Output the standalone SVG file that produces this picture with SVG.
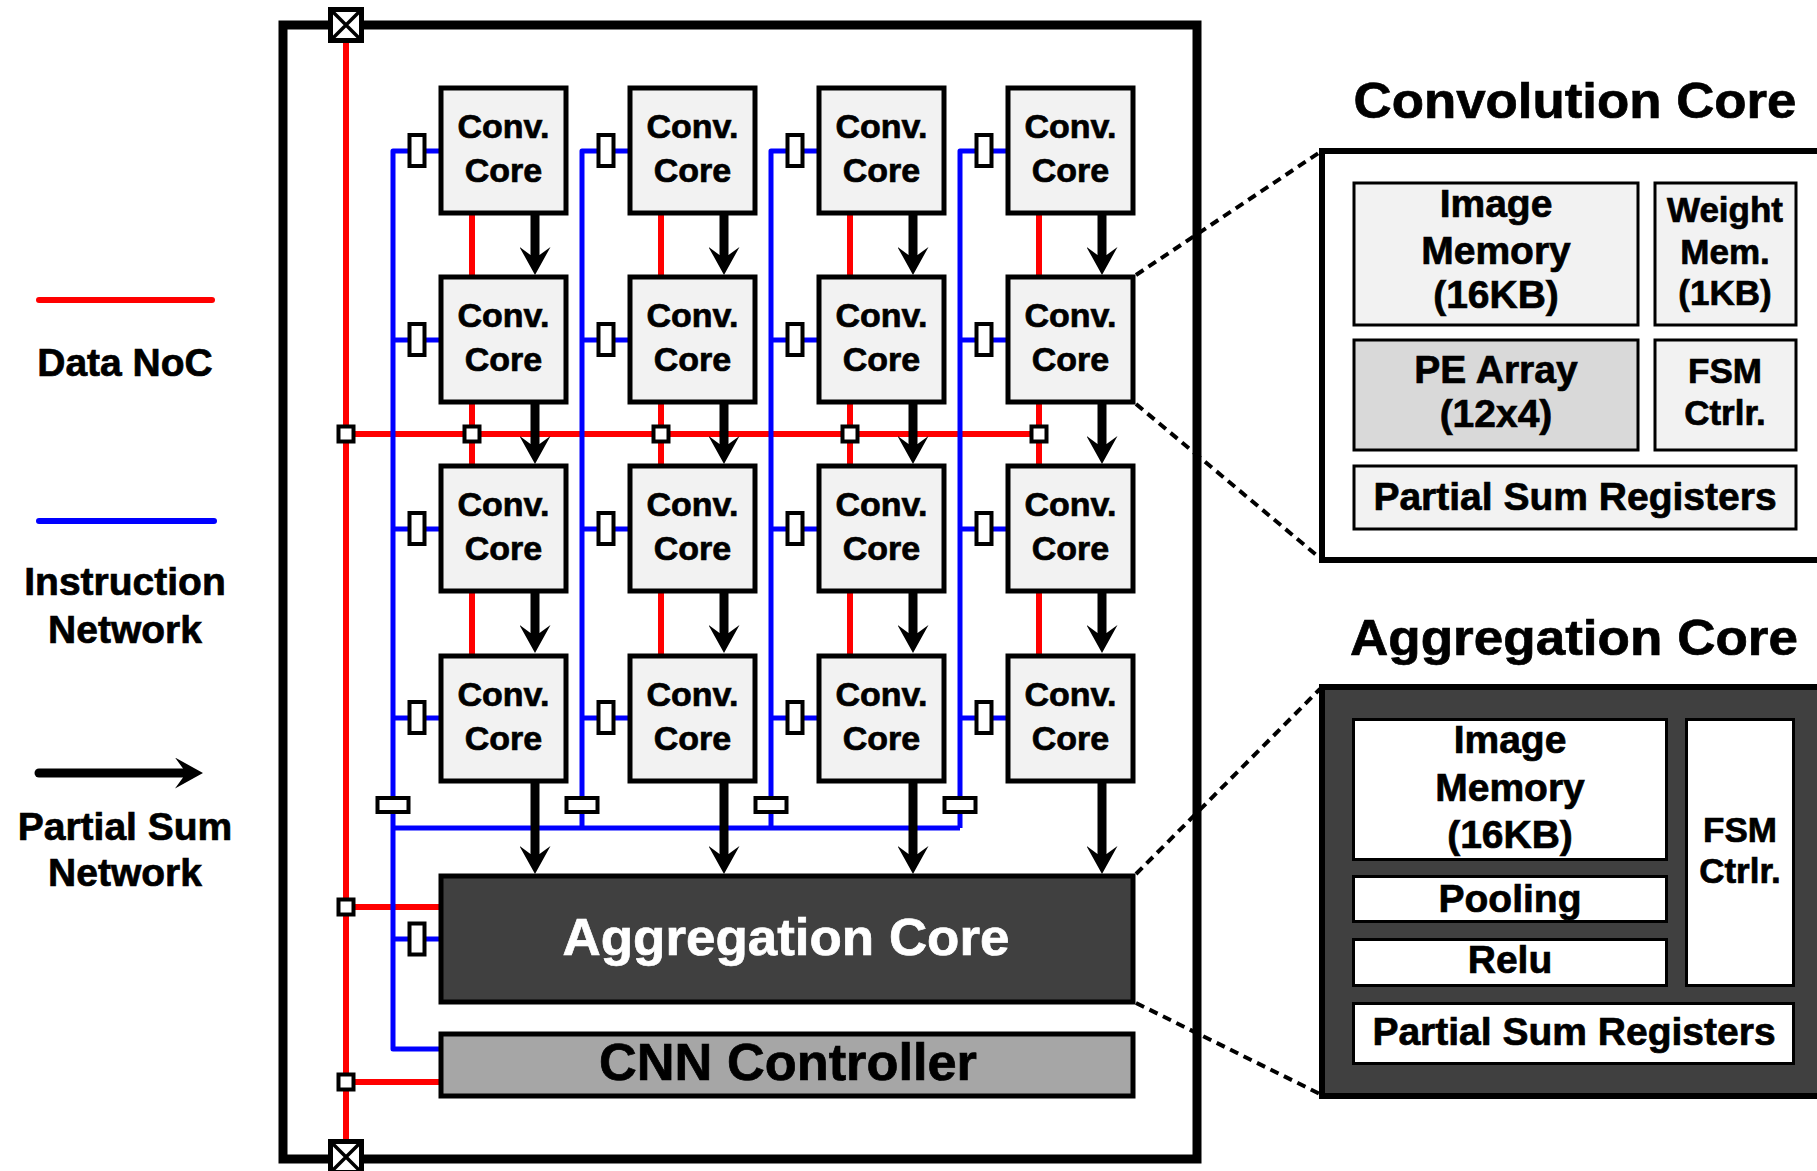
<svg xmlns="http://www.w3.org/2000/svg" width="1817" height="1171" viewBox="0 0 1817 1171">
  <style>
    text { font-family: "Liberation Sans", Arial, Helvetica, sans-serif; font-weight: bold; text-anchor: middle; fill: #000; stroke: #000; stroke-width: 0.7; }
    .core { fill: #f2f2f2; stroke: #000; stroke-width: 5; }
    .ct { font-size: 34px; }
    .red { stroke: #ff0000; stroke-width: 6; fill: none; }
    .blue { stroke: #0000ff; stroke-width: 5; fill: none; stroke-linejoin: round; }
    .psum { stroke: #000; stroke-width: 9; fill: none; marker-end: url(#head); }
    .jn { fill: #fff; stroke: #000; stroke-width: 4; }
    .buf { fill: #fff; stroke: #000; stroke-width: 4; }
    .xbox { fill: #fff; stroke: #000; stroke-width: 5; }
    .xl { stroke: #000; stroke-width: 3.5; }
    .dots { stroke: #000; stroke-width: 4; stroke-dasharray: 9 6; fill: none; }
    .sub { stroke: #000; stroke-width: 3; }
    .lg { font-size: 39px; }
    .big { font-size: 39px; }
    .mid { font-size: 35px; }
    .title { font-size: 50px; }
    .inv { fill: #fff; stroke: #fff; }
  </style>
  <defs>
    <marker id="head" viewBox="0 0 28 31" refX="8" refY="15.5" markerWidth="28" markerHeight="31" markerUnits="userSpaceOnUse" orient="auto">
      <path d="M28,15.5 L0,0 L8,11 L8,20 L0,31 Z" fill="#000"/>
    </marker>
  </defs>

  <rect width="1817" height="1171" fill="#fff"/>

  <!-- legend -->
  <g id="legend">
    <line x1="39" y1="300" x2="212" y2="300" stroke="#ff0000" stroke-width="6" stroke-linecap="round"/>
    <text class="lg" x="125" y="376">Data NoC</text>
    <line x1="39" y1="521" x2="214" y2="521" stroke="#0000ff" stroke-width="6" stroke-linecap="round"/>
    <text class="lg" x="125" y="595">Instruction</text>
    <text class="lg" x="125" y="643">Network</text>
    <line x1="39" y1="773" x2="183" y2="773" stroke="#000" stroke-width="9" stroke-linecap="round" marker-end="url(#head)"/>
    <text class="lg" x="125" y="840">Partial Sum</text>
    <text class="lg" x="125" y="886">Network</text>
  </g>

  <!-- chip boundary -->
  <rect id="chip" x="283" y="25" width="914" height="1134" fill="none" stroke="#000" stroke-width="9"/>

  <!-- connectors -->
  <g id="connectors">
    <!-- data NoC -->
    <g id="data-noc">
      <line class="red" x1="346" y1="40" x2="346" y2="1142"/>
      <line class="red" x1="346" y1="434" x2="1039" y2="434"/>
      <line class="red" x1="472" y1="213" x2="472" y2="657"/>
      <line class="red" x1="661" y1="213" x2="661" y2="657"/>
      <line class="red" x1="850" y1="213" x2="850" y2="657"/>
      <line class="red" x1="1039" y1="213" x2="1039" y2="657"/>
      <line class="red" x1="346" y1="907" x2="441" y2="907"/>
      <line class="red" x1="346" y1="1082" x2="441" y2="1082"/>
    </g>
    <!-- instruction network -->
    <g id="instr-net">
      <path class="blue" d="M441,151 H393 V1049 H441"/>
      <path class="blue" d="M630,151 H582 V828"/>
      <path class="blue" d="M819,151 H771 V828"/>
      <path class="blue" d="M1008,151 H960 V828"/>
      <path class="blue" d="M393,828 H960"/>
      <path class="blue" d="M393,340 H441 M393,529 H441 M393,718 H441 M393,939 H441"/>
      <path class="blue" d="M582,340 H630 M582,529 H630 M582,718 H630"/>
      <path class="blue" d="M771,340 H819 M771,529 H819 M771,718 H819"/>
      <path class="blue" d="M960,340 H1008 M960,529 H1008 M960,718 H1008"/>
    </g>
    <!-- partial sum network -->
    <g id="psum-net">
      <line class="psum" x1="535" y1="213" x2="535" y2="255"/>
      <line class="psum" x1="535" y1="402" x2="535" y2="444"/>
      <line class="psum" x1="535" y1="591" x2="535" y2="633"/>
      <line class="psum" x1="535" y1="781" x2="535" y2="854"/>
      <line class="psum" x1="724" y1="213" x2="724" y2="255"/>
      <line class="psum" x1="724" y1="402" x2="724" y2="444"/>
      <line class="psum" x1="724" y1="591" x2="724" y2="633"/>
      <line class="psum" x1="724" y1="781" x2="724" y2="854"/>
      <line class="psum" x1="913" y1="213" x2="913" y2="255"/>
      <line class="psum" x1="913" y1="402" x2="913" y2="444"/>
      <line class="psum" x1="913" y1="591" x2="913" y2="633"/>
      <line class="psum" x1="913" y1="781" x2="913" y2="854"/>
      <line class="psum" x1="1102" y1="213" x2="1102" y2="255"/>
      <line class="psum" x1="1102" y1="402" x2="1102" y2="444"/>
      <line class="psum" x1="1102" y1="591" x2="1102" y2="633"/>
      <line class="psum" x1="1102" y1="781" x2="1102" y2="854"/>
    </g>
    <!-- router junctions -->
    <g id="routers">
      <rect class="jn" x="338.5" y="426.5" width="15" height="15"/>
      <rect class="jn" x="464.5" y="426.5" width="15" height="15"/>
      <rect class="jn" x="653.5" y="426.5" width="15" height="15"/>
      <rect class="jn" x="842.5" y="426.5" width="15" height="15"/>
      <rect class="jn" x="1031.5" y="426.5" width="15" height="15"/>
      <rect class="jn" x="338.5" y="899.5" width="15" height="15"/>
      <rect class="jn" x="338.5" y="1074.5" width="15" height="15"/>
    </g>
    <!-- instruction buffers -->
    <g id="buffers">
      <rect class="buf" x="409.5" y="135" width="15" height="31"/>
      <rect class="buf" x="409.5" y="324" width="15" height="31"/>
      <rect class="buf" x="409.5" y="513" width="15" height="31"/>
      <rect class="buf" x="409.5" y="702" width="15" height="31"/>
      <rect class="buf" x="598.5" y="135" width="15" height="31"/>
      <rect class="buf" x="598.5" y="324" width="15" height="31"/>
      <rect class="buf" x="598.5" y="513" width="15" height="31"/>
      <rect class="buf" x="598.5" y="702" width="15" height="31"/>
      <rect class="buf" x="787.5" y="135" width="15" height="31"/>
      <rect class="buf" x="787.5" y="324" width="15" height="31"/>
      <rect class="buf" x="787.5" y="513" width="15" height="31"/>
      <rect class="buf" x="787.5" y="702" width="15" height="31"/>
      <rect class="buf" x="976.5" y="135" width="15" height="31"/>
      <rect class="buf" x="976.5" y="324" width="15" height="31"/>
      <rect class="buf" x="976.5" y="513" width="15" height="31"/>
      <rect class="buf" x="976.5" y="702" width="15" height="31"/>
      <rect class="buf" x="409.5" y="923.5" width="15" height="31"/>
      <rect class="buf" x="377.5" y="798" width="31" height="14"/>
      <rect class="buf" x="566.5" y="798" width="31" height="14"/>
      <rect class="buf" x="755.5" y="798" width="31" height="14"/>
      <rect class="buf" x="944.5" y="798" width="31" height="14"/>
    </g>
    <!-- I/O pads -->
    <g id="pads">
      <rect class="xbox" x="330.5" y="9.5" width="31" height="31"/>
      <path class="xl" d="M331,10 L361,40 M361,10 L331,40"/>
      <rect class="xbox" x="330.5" y="1141.5" width="31" height="31"/>
      <path class="xl" d="M331,1142 L361,1172 M361,1142 L331,1172"/>
    </g>
    <!-- zoom guides -->
    <g id="guides">
      <line class="dots" x1="1136" y1="275" x2="1320" y2="152"/>
      <line class="dots" x1="1136" y1="404" x2="1320" y2="558"/>
      <line class="dots" x1="1136" y1="874" x2="1320" y2="689"/>
      <line class="dots" x1="1136" y1="1003" x2="1320" y2="1094"/>
    </g>
  </g>

  <!-- convolution cores -->
  <g id="core-r1c1"><rect class="core" x="441" y="88" width="125" height="125"/><text class="ct" x="503.5" y="138">Conv.</text><text class="ct" x="503.5" y="182">Core</text></g>
  <g id="core-r1c2"><rect class="core" x="630" y="88" width="125" height="125"/><text class="ct" x="692.5" y="138">Conv.</text><text class="ct" x="692.5" y="182">Core</text></g>
  <g id="core-r1c3"><rect class="core" x="819" y="88" width="125" height="125"/><text class="ct" x="881.5" y="138">Conv.</text><text class="ct" x="881.5" y="182">Core</text></g>
  <g id="core-r1c4"><rect class="core" x="1008" y="88" width="125" height="125"/><text class="ct" x="1070.5" y="138">Conv.</text><text class="ct" x="1070.5" y="182">Core</text></g>

  <g id="core-r2c1"><rect class="core" x="441" y="277" width="125" height="125"/><text class="ct" x="503.5" y="327">Conv.</text><text class="ct" x="503.5" y="371">Core</text></g>
  <g id="core-r2c2"><rect class="core" x="630" y="277" width="125" height="125"/><text class="ct" x="692.5" y="327">Conv.</text><text class="ct" x="692.5" y="371">Core</text></g>
  <g id="core-r2c3"><rect class="core" x="819" y="277" width="125" height="125"/><text class="ct" x="881.5" y="327">Conv.</text><text class="ct" x="881.5" y="371">Core</text></g>
  <g id="core-r2c4"><rect class="core" x="1008" y="277" width="125" height="125"/><text class="ct" x="1070.5" y="327">Conv.</text><text class="ct" x="1070.5" y="371">Core</text></g>

  <g id="core-r3c1"><rect class="core" x="441" y="466" width="125" height="125"/><text class="ct" x="503.5" y="516">Conv.</text><text class="ct" x="503.5" y="560">Core</text></g>
  <g id="core-r3c2"><rect class="core" x="630" y="466" width="125" height="125"/><text class="ct" x="692.5" y="516">Conv.</text><text class="ct" x="692.5" y="560">Core</text></g>
  <g id="core-r3c3"><rect class="core" x="819" y="466" width="125" height="125"/><text class="ct" x="881.5" y="516">Conv.</text><text class="ct" x="881.5" y="560">Core</text></g>
  <g id="core-r3c4"><rect class="core" x="1008" y="466" width="125" height="125"/><text class="ct" x="1070.5" y="516">Conv.</text><text class="ct" x="1070.5" y="560">Core</text></g>

  <g id="core-r4c1"><rect class="core" x="441" y="656" width="125" height="125"/><text class="ct" x="503.5" y="706">Conv.</text><text class="ct" x="503.5" y="750">Core</text></g>
  <g id="core-r4c2"><rect class="core" x="630" y="656" width="125" height="125"/><text class="ct" x="692.5" y="706">Conv.</text><text class="ct" x="692.5" y="750">Core</text></g>
  <g id="core-r4c3"><rect class="core" x="819" y="656" width="125" height="125"/><text class="ct" x="881.5" y="706">Conv.</text><text class="ct" x="881.5" y="750">Core</text></g>
  <g id="core-r4c4"><rect class="core" x="1008" y="656" width="125" height="125"/><text class="ct" x="1070.5" y="706">Conv.</text><text class="ct" x="1070.5" y="750">Core</text></g>

  <!-- aggregation core -->
  <g id="agg-core">
    <rect x="441" y="876" width="692" height="126" fill="#404040" stroke="#000" stroke-width="5"/>
    <text class="inv" x="786" y="955" font-size="52" textLength="447" lengthAdjust="spacingAndGlyphs">Aggregation Core</text>
  </g>

  <!-- CNN controller -->
  <g id="cnn-ctrl">
    <rect x="441" y="1034" width="692" height="62" fill="#a6a6a6" stroke="#000" stroke-width="5"/>
    <text x="788" y="1080" font-size="52" textLength="378" lengthAdjust="spacingAndGlyphs">CNN Controller</text>
  </g>

  <!-- convolution core detail -->
  <g id="conv-detail">
    <text class="title" x="1575" y="118" textLength="443" lengthAdjust="spacingAndGlyphs">Convolution Core</text>
    <rect x="1322" y="151" width="520" height="409" fill="#fff" stroke="#000" stroke-width="6"/>
    <g id="cd-imem">
      <rect class="sub" x="1354" y="183" width="284" height="142" fill="#f2f2f2"/>
      <text class="big" x="1496" y="217">Image</text>
      <text class="big" x="1496" y="264">Memory</text>
      <text class="big" x="1496" y="308">(16KB)</text>
    </g>
    <g id="cd-wmem">
      <rect class="sub" x="1655" y="183" width="141" height="142" fill="#f2f2f2"/>
      <text class="mid" x="1725" y="222">Weight</text>
      <text class="mid" x="1725" y="264">Mem.</text>
      <text class="mid" x="1725" y="305">(1KB)</text>
    </g>
    <g id="cd-pe">
      <rect class="sub" x="1354" y="340" width="284" height="110" fill="#d9d9d9"/>
      <text class="big" x="1496" y="383">PE Array</text>
      <text class="big" x="1496" y="427">(12x4)</text>
    </g>
    <g id="cd-fsm">
      <rect class="sub" x="1655" y="340" width="141" height="110" fill="#f2f2f2"/>
      <text class="mid" x="1725" y="383">FSM</text>
      <text class="mid" x="1725" y="425">Ctrlr.</text>
    </g>
    <g id="cd-psr">
      <rect class="sub" x="1354" y="466" width="442" height="63" fill="#f2f2f2"/>
      <text class="big" x="1575" y="510">Partial Sum Registers</text>
    </g>
  </g>

  <!-- aggregation core detail -->
  <g id="agg-detail">
    <text class="title" x="1574" y="655" textLength="448" lengthAdjust="spacingAndGlyphs">Aggregation Core</text>
    <rect x="1322" y="687" width="520" height="409" fill="#404040" stroke="#000" stroke-width="6"/>
    <g id="ad-imem">
      <rect class="sub" x="1353.5" y="719.5" width="313" height="140" fill="#fff"/>
      <text class="big" x="1510" y="753">Image</text>
      <text class="big" x="1510" y="801">Memory</text>
      <text class="big" x="1510" y="848">(16KB)</text>
    </g>
    <g id="ad-pool">
      <rect class="sub" x="1353.5" y="876.5" width="313" height="45" fill="#fff"/>
      <text class="big" x="1510" y="912">Pooling</text>
    </g>
    <g id="ad-relu">
      <rect class="sub" x="1353.5" y="939.5" width="313" height="46" fill="#fff"/>
      <text class="big" x="1510" y="973">Relu</text>
    </g>
    <g id="ad-fsm">
      <rect class="sub" x="1686.5" y="719.5" width="107" height="266" fill="#fff"/>
      <text class="mid" x="1740" y="842">FSM</text>
      <text class="mid" x="1740" y="883">Ctrlr.</text>
    </g>
    <g id="ad-psr">
      <rect class="sub" x="1353.5" y="1003.5" width="440" height="60" fill="#fff"/>
      <text class="big" x="1574" y="1045">Partial Sum Registers</text>
    </g>
  </g>
</svg>
